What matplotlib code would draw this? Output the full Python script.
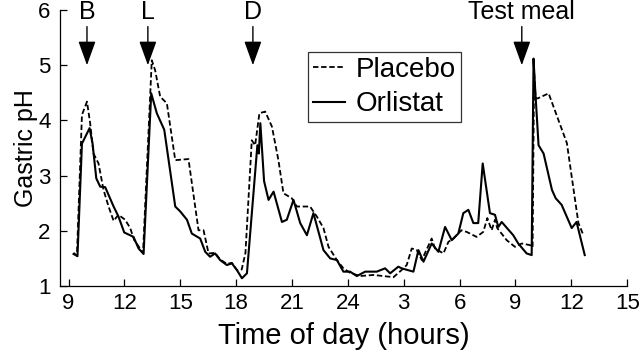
import matplotlib
matplotlib.use('Agg')
import matplotlib.pyplot as plt

plt.rcParams['font.family'] = ['Liberation Sans', 'DejaVu Sans']

# hours counted continuously from 9 am on day 1 (24 = midnight, 33 = 9 am day 2)
orlistat_h = [9.27, 9.48, 9.72, 10.13, 10.29, 10.49, 10.70, 10.97, 11.42, 11.68, 11.99,
              12.49, 12.76, 13.03, 13.44, 13.74, 14.14, 14.73, 15.0, 15.36, 15.62, 16.07,
              16.34, 16.6, 16.87, 17.14, 17.5, 17.77, 18.04, 18.31, 18.58, 19.14, 19.22,
              19.3, 19.5, 19.74, 20.01, 20.46, 20.72, 21.08, 21.44, 21.8, 22.15, 22.69,
              23.05, 23.41, 23.76, 24.12, 24.48, 24.93, 25.55, 26.0, 26.27, 26.71, 26.89,
              27.52, 27.79, 28.06, 28.5, 28.86, 29.22, 29.58, 29.93, 30.2, 30.47, 30.74,
              31.0, 31.24, 31.63, 31.9, 32.08, 32.26, 32.88, 33.15, 33.6, 33.87, 33.97,
              34.05, 34.24, 34.51, 34.96, 35.16, 35.48, 36.02, 36.28, 36.72]
orlistat_ph = [1.58, 1.54, 3.58, 3.86, 3.58, 2.95, 2.80, 2.79, 2.44, 2.26, 1.97,
               1.89, 1.68, 1.58, 4.49, 4.13, 3.83, 2.44, 2.35, 2.20, 1.95, 1.86,
               1.62, 1.53, 1.59, 1.47, 1.38, 1.41, 1.29, 1.14, 1.23, 3.55, 3.40,
               3.95, 2.90, 2.56, 2.71, 2.16, 2.20, 2.56, 2.14, 1.92, 2.32, 1.65,
               1.50, 1.47, 1.26, 1.26, 1.18, 1.26, 1.26, 1.32, 1.23, 1.35, 1.32,
               1.26, 1.65, 1.44, 1.77, 1.62, 2.07, 1.83, 1.95, 2.32, 2.38, 2.14,
               2.14, 3.22, 2.32, 2.29, 2.07, 2.16, 1.92, 1.77, 1.59, 1.56, 5.12,
               4.61, 3.55, 3.40, 2.74, 2.59, 2.47, 2.05, 2.16, 1.56]

placebo_h = [9.27, 9.45, 9.72, 9.99, 10.16, 10.34, 10.61, 10.88, 11.15, 11.42, 11.68,
             12.04, 12.31, 12.53, 13.0, 13.47, 13.65, 13.92, 14.28, 14.73, 15.44, 15.98,
             16.25, 16.52, 16.87, 17.14, 17.5, 17.77, 18.04, 18.3, 18.5, 18.84, 19.02,
             19.25, 19.56, 19.92, 20.27, 20.54, 20.99, 21.26, 21.97, 22.33, 22.69, 22.96,
             23.41, 23.76, 24.12, 24.65, 25.37, 26.45, 26.89, 27.16, 27.43, 27.7, 27.97,
             28.5, 28.68, 29.13, 29.4, 29.66, 30.1, 30.38, 30.91, 31.27, 31.49, 31.72,
             31.9, 32.02, 32.53, 32.97, 33.34, 33.79, 33.92, 34.0, 34.08, 34.2, 34.78,
             35.76, 36.38, 36.65]
placebo_ph = [1.60, 1.55, 4.10, 4.34, 3.95, 3.40, 3.22, 2.74, 2.44, 2.18, 2.29,
              2.20, 2.05, 1.83, 1.60, 5.09, 4.91, 4.43, 4.31, 3.28, 3.30, 2.01,
              2.01, 1.59, 1.60, 1.48, 1.40, 1.42, 1.29, 1.30, 1.60, 3.64, 3.55,
              4.13, 4.16, 3.89, 3.28, 2.68, 2.59, 2.44, 2.44, 2.26, 2.05, 1.71,
              1.47, 1.32, 1.24, 1.18, 1.20, 1.16, 1.29, 1.38, 1.68, 1.65, 1.47,
              1.86, 1.68, 1.59, 1.80, 1.86, 2.01, 1.98, 1.89, 1.98, 2.23, 2.01,
              2.20, 2.05, 1.83, 1.71, 1.77, 1.74, 1.70, 4.90, 4.40, 4.40, 4.49,
              3.59, 2.14, 1.92]

meal_labels = ['B', 'L', 'D', 'Test meal']
meal_times = [9.99, 13.26, 18.9, 33.34]

tick_pos = [9, 12, 15, 18, 21, 24, 27, 30, 33, 36, 39]
tick_labels = ['9', '12', '15', '18', '21', '24', '3', '6', '9', '12', '15']

fig = plt.figure(figsize=(6.4, 3.52), dpi=100)
ax = fig.add_axes([0.094, 0.1875, 0.886, 0.784])

ax.plot(placebo_h, placebo_ph, color='black', lw=1.3, linestyle=(0, (3, 1.5)), label='Placebo')
ax.plot(orlistat_h, orlistat_ph, color='black', lw=1.5, label='Orlistat')

for lab, t in zip(meal_labels, meal_times):
    ax.annotate('', xy=(t, 5.0), xytext=(t, 5.7),
                arrowprops=dict(arrowstyle='-|>,head_length=0.75,head_width=0.27',
                                color='black', lw=1.0, mutation_scale=20,
                                shrinkA=0, shrinkB=0),
                annotation_clip=False)
    ax.text(t, 5.96, lab, ha='center', va='center', fontsize=18, clip_on=False)

ax.set_xlim(8.55, 39)
ax.set_ylim(1, 6)
ax.set_xticks(tick_pos)
ax.set_xticklabels(tick_labels)
ax.set_yticks([1, 2, 3, 4, 5, 6])
ax.tick_params(direction='in', length=5, width=0.9, labelsize=16, pad=5)
ax.tick_params(axis='y', pad=7)
for s in ['top', 'right']:
    ax.spines[s].set_visible(False)
for s in ['left', 'bottom']:
    ax.spines[s].set_linewidth(0.9)

ax.set_xlabel('Time of day (hours)', fontsize=21, labelpad=6)
ax.set_ylabel('Gastric pH', fontsize=18, labelpad=0)

leg = ax.legend(loc='upper left', bbox_to_anchor=(0.437, 0.848), borderaxespad=0,
                fontsize=20, frameon=True, fancybox=False, edgecolor='black',
                handlelength=1.15, handletextpad=0.4, labelspacing=0.3, borderpad=0.18)
leg.get_frame().set_linewidth(0.9)

plt.savefig('out.png', dpi=100)
